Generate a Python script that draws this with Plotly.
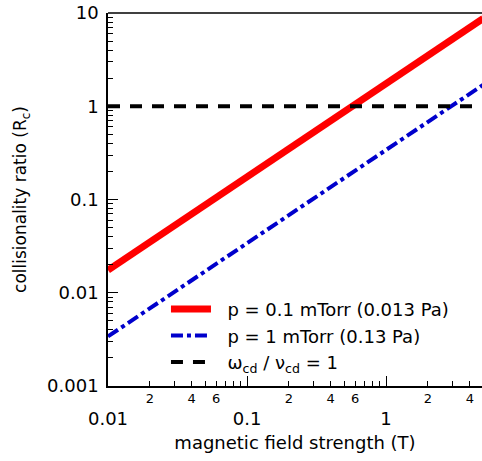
import plotly.graph_objects as go

# data
B = [0.01, 5.0]                      # magnetic field strength (T)
R_01mTorr = [0.0175, 8.75]           # p = 0.1 mTorr
R_1mTorr = [0.0034, 1.7]             # p = 1 mTorr
R_unity = [1.0, 1.0]                 # omega/nu = 1

x_major = [0.01, 0.1, 1]
x_major_text = ["0.01", "0.1", "1"]
x_minor_lab = [d * m for m in (0.01, 0.1, 1) for d in (2, 4, 6)]
x_minor_lab_text = [str(d) for m in (0.01, 0.1, 1) for d in (2, 4, 6)]
x_minor_other = [d * m for m in (0.01, 0.1, 1) for d in (3, 5, 7, 8, 9)]
y_major = [0.001, 0.01, 0.1, 1, 10]
y_major_text = ["0.001", "0.01", "0.1", "1", "10"]
y_minor = [d * m for m in (0.001, 0.01, 0.1, 1) for d in range(2, 10)]

FONT = "DejaVu Sans"
xr = [-2, 0.69]
yr = [-3, 1]
PAD = "\u00a0\u00a0"

fig = go.Figure()
fig.add_trace(go.Scatter(x=B, y=R_01mTorr, mode="lines", name=PAD + "p = 0.1 mTorr (0.013 Pa)",
                         line=dict(color="#ff0000", width=7)))
fig.add_trace(go.Scatter(x=B, y=R_1mTorr, mode="lines", name=PAD + "p = 1 mTorr (0.13 Pa)",
                         line=dict(color="#0000cc", width=4, dash="dashdot")))
fig.add_trace(go.Scatter(x=[0.01, 4.9], y=R_unity, mode="lines",
                         name=PAD + "ω<sub>cd</sub> / ν<sub>cd</sub> = 1",
                         line=dict(color="black", width=4, dash="12px,10px")))
# invisible traces to activate overlay axes for minor ticks/labels
fig.add_trace(go.Scatter(x=B, y=R_unity, xaxis="x2", yaxis="y2", mode="lines", showlegend=False,
                         line=dict(width=0), hoverinfo="skip", opacity=0))
fig.add_trace(go.Scatter(x=B, y=R_unity, xaxis="x3", yaxis="y", mode="lines", showlegend=False,
                         line=dict(width=0), hoverinfo="skip", opacity=0))

minor_common = dict(type="log", range=xr, overlaying="x", anchor="y", side="bottom",
                    showgrid=False, zeroline=False, showline=False, automargin=False,
                    tickmode="array", ticks="inside", ticklen=5, tickwidth=1, tickcolor="black")

fig.update_layout(
    width=482, height=461,
    margin=dict(l=108, r=0, t=13, b=75, autoexpand=False),
    plot_bgcolor="white", paper_bgcolor="white",
    font=dict(family=FONT, color="black", size=16),
    showlegend=True,
    legend=dict(x=0.155, y=0.255, xanchor="left", yanchor="top",
                bgcolor="rgba(0,0,0,0)", font=dict(size=18, family=FONT),
                tracegroupgap=0, itemwidth=40),
    xaxis=dict(type="log", range=xr, showgrid=False, zeroline=False, automargin=False,
               showline=True, linecolor="black", linewidth=1.5, mirror=False,
               tickmode="array", tickvals=x_major, ticktext=x_major_text,
               ticks="inside", ticklen=10, tickwidth=1, tickcolor="black",
               tickfont=dict(size=18, family=FONT), ticklabelstandoff=16,
               title=dict(text="magnetic field strength (T)", font=dict(size=18), standoff=8)),
    xaxis2=dict(**minor_common, tickvals=x_minor_lab, ticktext=x_minor_lab_text,
                tickfont=dict(size=13, family=FONT), ticklabelstandoff=3),
    xaxis3=dict(**minor_common, tickvals=x_minor_other, showticklabels=False),
    yaxis=dict(type="log", range=yr, showgrid=False, zeroline=False, automargin=False,
               showline=True, linecolor="black", linewidth=1.5,
               tickmode="array", tickvals=y_major, ticktext=y_major_text,
               ticks="inside", ticklen=10, tickwidth=1, tickcolor="black",
               tickfont=dict(size=18, family=FONT), ticklabelstandoff=4,
               title=dict(text="collisionality ratio (R<sub>c</sub>)", font=dict(size=17), standoff=16)),
    yaxis2=dict(type="log", range=yr, overlaying="y", anchor="x", side="left",
                showgrid=False, zeroline=False, showline=False, automargin=False,
                tickmode="array", tickvals=y_minor, showticklabels=False,
                ticks="inside", ticklen=5, tickwidth=1, tickcolor="black"),
    shapes=[dict(type="line", xref="paper", yref="paper", x0=0, x1=1, y0=1, y1=1,
                 line=dict(color="black", width=1.5))],
)

fig.write_html("out.html", config={"displayModeBar": False},
               post_script="document.body.style.margin='0';document.body.style.overflow='hidden';")
